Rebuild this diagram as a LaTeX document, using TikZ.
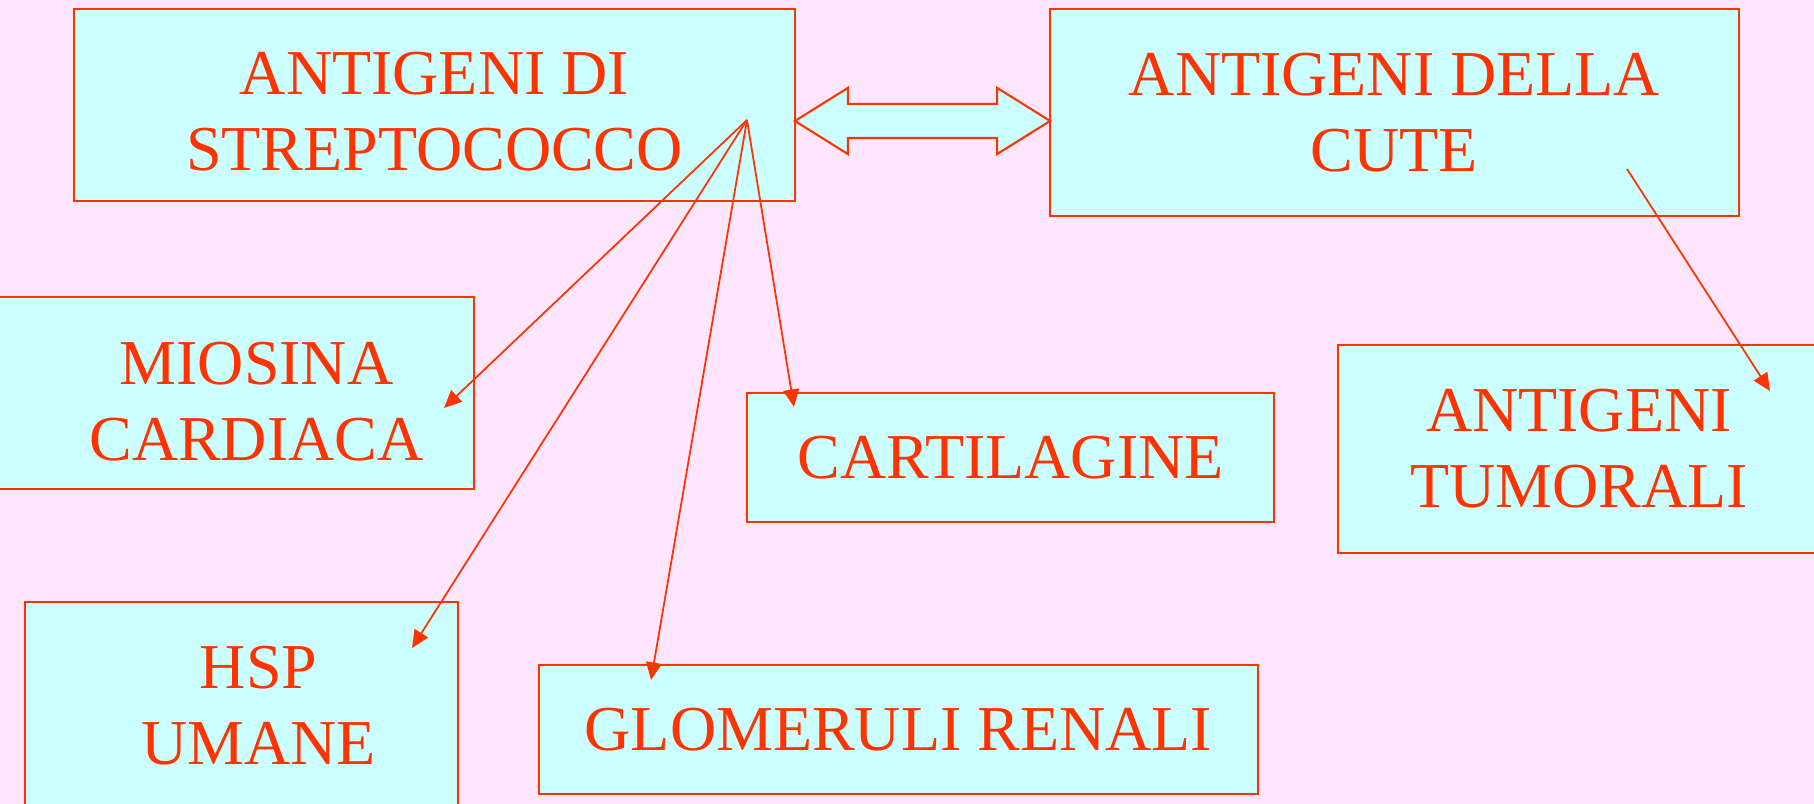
\documentclass[tikz,border=0pt]{standalone}
\usepackage{fontspec}
\setmainfont{Liberation Serif}
\usepackage{tikz}
\usetikzlibrary{positioning,arrows.meta,shapes.arrows}
\definecolor{slidepink}{HTML}{FFE6FF}
\definecolor{boxcyan}{HTML}{CCFFFF}
\definecolor{linered}{HTML}{FF3300}

\begin{document}
\begin{tikzpicture}[x=0.01cm,y=0.01cm,
  antibox/.style={draw=linered, fill=boxcyan, line width=0.6pt, text=linered,
    align=center, inner sep=0pt, font=\fontsize{18.2}{21.6}\selectfont},
  antitext/.style={text=linered, align=center, inner sep=0pt, font=\fontsize{18.2}{21.6}\selectfont},
  cross/.style={draw=linered, line width=0.5pt, -{Triangle[length=5pt,width=4.5pt]}}]

% slide background
\fill[slidepink] (0,0) rectangle (1814,804);
\useasboundingbox (0,0) rectangle (1814,804);

% antigen boxes
\node[antibox, minimum width=7.21cm, minimum height=1.92cm] (strep) at (434.5,699) {};
\node[antitext] (strepText) at (434.5,692) {ANTIGENI DI\\STREPTOCOCCO};
\node[antibox, minimum width=6.89cm, minimum height=2.07cm] (cute) at (1394.5,691.5) {ANTIGENI DELLA\\CUTE};
\node[antibox, minimum width=4.79cm, minimum height=1.92cm] (miosina) at (234.5,411) {};
\node[antitext] (miosinaText) at (256.5,402) {MIOSINA\\CARDIACA};
\node[antibox, minimum width=5.27cm, minimum height=1.29cm] (cartilagine) at (1010.5,346.5) {CARTILAGINE};
\node[antibox, minimum width=4.82cm, minimum height=2.08cm] (tumorali) at (1579,355) {ANTIGENI\\TUMORALI};
\node[antibox, minimum width=4.33cm, minimum height=2.08cm] (hsp) at (241.5,98) {};
\node[antitext] (hspText) at (258.5,98) {HSP\\UMANE};
\node[antibox, minimum width=7.19cm, minimum height=1.29cm] (glomeruli) at (898.5,74.5) {GLOMERULI RENALI};

% double arrow between the two antigen groups
\node[draw=linered, fill=boxcyan, line width=0.6pt, double arrow, inner xsep=0pt, inner ysep=0.16cm,
  minimum height=2.55cm, double arrow head extend=0.16cm, double arrow tip angle=64] (dbl) at (922.5,683) {};

% cross reactions
\coordinate (src) at (747,684);
\coordinate (toMio) at (444,396);
\coordinate (toHsp) at (412,156);
\coordinate (toGlo) at (651,124);
\coordinate (toCar) at (794,397);
\foreach \t in {toMio,toHsp,toGlo,toCar}
  \draw[cross] (src) -- (\t);

\coordinate (cuteSrc) at (1627,635);
\coordinate (toTum) at (1770,413);
\draw[cross] (cuteSrc) -- (toTum);

\end{tikzpicture}
\end{document}
